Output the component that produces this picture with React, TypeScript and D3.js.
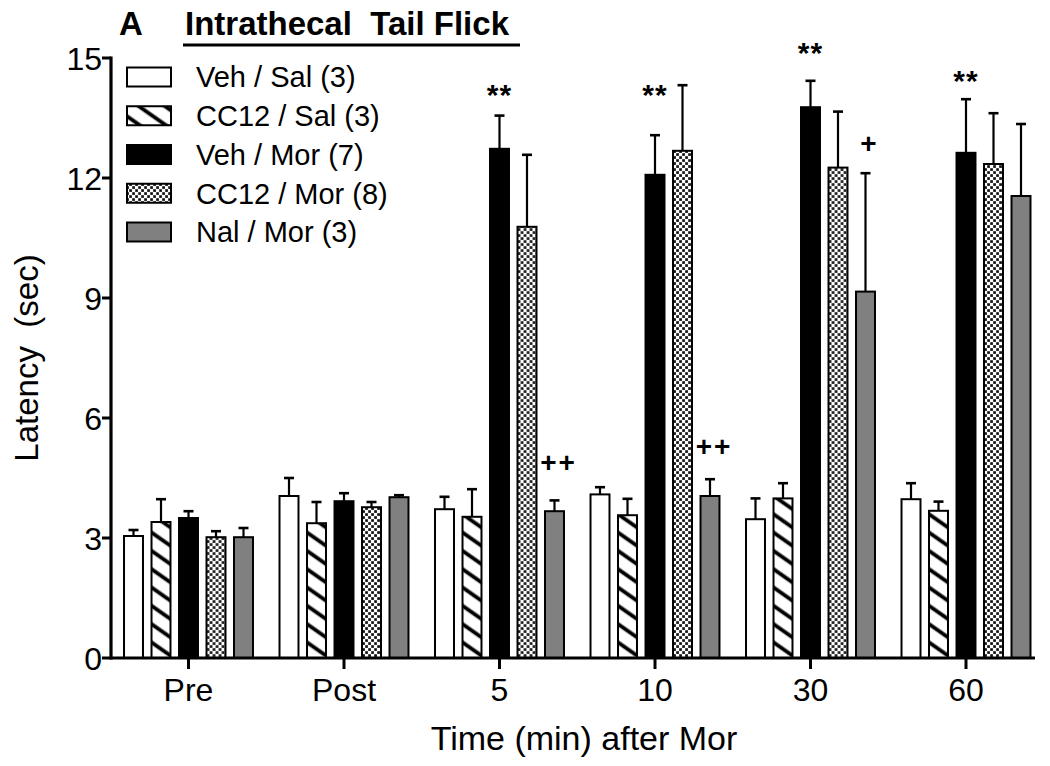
import * as d3 from "d3";

// time points and groups
const categories = ["Pre", "Post", "5", "10", "30", "60"];
const seriesNames = ["Veh / Sal (3)", "CC12 / Sal (3)", "Veh / Mor (7)", "CC12 / Mor (8)", "Nal / Mor (3)"];

// mean latency (sec) per group, one value per time point
const vehSal = [3.05, 4.05, 3.72, 4.09, 3.47, 3.97];
const cc12Sal = [3.4, 3.37, 3.53, 3.57, 3.99, 3.68];
const vehMor = [3.5, 3.92, 12.73, 12.08, 13.77, 12.63];
const cc12Mor = [3.02, 3.77, 10.78, 12.68, 12.26, 12.35];
const nalMor = [3.02, 4.02, 3.67, 4.05, 9.16, 11.55];

// SEM (upper error bar only)
const vehSalSem = [0.15, 0.45, 0.31, 0.18, 0.52, 0.4];
const cc12SalSem = [0.57, 0.53, 0.69, 0.41, 0.38, 0.23];
const vehMorSem = [0.17, 0.2, 0.83, 0.99, 0.66, 1.34];
const cc12MorSem = [0.15, 0.13, 1.8, 1.64, 1.4, 1.27];
const nalMorSem = [0.23, 0.05, 0.27, 0.42, 2.96, 1.8];

const yTicks = [0, 3, 6, 9, 12, 15];

// significance marks: time point, group index, text, height (sec)
const marks = [
  { cat: "5", s: 2, text: "**", at: 14.25 },
  { cat: "10", s: 2, text: "**", at: 14.25 },
  { cat: "30", s: 2, text: "**", at: 15.3 },
  { cat: "60", s: 2, text: "**", at: 14.6 },
  { cat: "5", s: 4, text: "++", at: 4.87 },
  { cat: "10", s: 4, text: "++", at: 5.27 },
  { cat: "30", s: 4, text: "+", at: 12.85 },
];

const means = [vehSal, cc12Sal, vehMor, cc12Mor, nalMor];
const sems = [vehSalSem, cc12SalSem, vehMorSem, cc12MorSem, nalMorSem];
const fills = ["#ffffff", "url(#hatch)", "#000000", "url(#checker)", "#808080"];

const FONT = "'Liberation Sans', Arial, Helvetica, sans-serif";

export default function App() {
  const W = 1050;
  const H = 766;
  const axisX = 111;
  const axisY = 658;
  const axisEnd = 1035;

  const y = d3.scaleLinear().domain([0, 15]).range([axisY, 58]);
  const x = d3.scalePoint<string>().domain(categories).range([188.5, 966]);
  // bars inside one time point
  const xs = d3
    .scaleBand<number>()
    .domain(d3.range(seriesNames.length))
    .range([-68.75, 68.75])
    .paddingInner(0.31)
    .paddingOuter(0.155);
  const bw = xs.bandwidth();
  const cap = 10;

  const legendY = d3.scalePoint<number>().domain(d3.range(seriesNames.length)).range([77, 232]);

  return (
    <svg width={W} height={H} style={{ position: "absolute", left: 0, top: 0, background: "#fff" }} fontFamily={FONT}>
      <defs>
        <pattern id="hatch" patternUnits="userSpaceOnUse" width="15" height="15" patternTransform="rotate(35)">
          <rect width="15" height="15" fill="#fff" />
          <rect y="5.5" width="15" height="3.8" fill="#000" />
        </pattern>
        <pattern id="checker" patternUnits="userSpaceOnUse" width="6" height="6">
          <rect width="6" height="6" fill="#fff" />
          <rect x="0.2" y="0.2" width="2.7" height="2.7" fill="#111" />
          <rect x="3.2" y="3.2" width="2.7" height="2.7" fill="#111" />
        </pattern>
      </defs>

      {/* bars and error bars */}
      {categories.map((c, ci) => (
        <g key={c} transform={`translate(${x(c)},0)`}>
          {means.map((vals, si) => {
            const bx = xs(si) as number;
            const cx = bx + bw / 2;
            const top = y(vals[ci]);
            const errTop = y(vals[ci] + sems[si][ci]);
            return (
              <g key={si}>
                <line x1={cx} x2={cx} y1={top} y2={errTop} stroke="#000" strokeWidth={2.2} />
                <line x1={cx - cap / 2} x2={cx + cap / 2} y1={errTop} y2={errTop} stroke="#000" strokeWidth={2.6} />
                <rect x={bx} y={top} width={bw} height={axisY - top} fill={fills[si]} stroke="#000" strokeWidth={2} />
              </g>
            );
          })}
        </g>
      ))}

      {/* significance marks */}
      {marks.map((m, i) => {
        const star = m.text[0] === "*";
        const cx = (x(m.cat) as number) + (xs(m.s) as number) + bw / 2 + (star ? 0 : 4);
        const cy = y(m.at);
        const fs = star ? 30 : 28;
        const base = star ? cy + 0.58 * fs : cy + 0.33 * fs;
        return (
          <text key={i} x={cx} y={base} fontSize={fs} fontWeight="bold" textAnchor="middle" letterSpacing={star ? 1 : 2}>
            {m.text}
          </text>
        );
      })}

      {/* y axis */}
      <line x1={axisX} x2={axisX} y1={y(15) - 1.5} y2={axisY + 1.5} stroke="#000" strokeWidth={3.2} />
      {yTicks.map((t) => (
        <g key={t}>
          <line x1={axisX - 9} x2={axisX} y1={y(t)} y2={y(t)} stroke="#000" strokeWidth={3} />
          <text x={axisX - 9} y={y(t)} dy="0.36em" fontSize={32} textAnchor="end">
            {t}
          </text>
        </g>
      ))}

      {/* x axis */}
      <line x1={axisX} x2={axisEnd} y1={axisY} y2={axisY} stroke="#000" strokeWidth={3.2} />
      {categories.map((c) => (
        <g key={c}>
          <line x1={x(c)} x2={x(c)} y1={axisY} y2={axisY + 11} stroke="#000" strokeWidth={3} />
          <text x={x(c)} y={701} fontSize={32} textAnchor="middle">
            {c}
          </text>
        </g>
      ))}

      {/* axis titles */}
      <text x={584} y={750} fontSize={34} textAnchor="middle">
        Time (min) after Mor
      </text>
      <text transform={`translate(38,358) rotate(-90)`} fontSize={33} textAnchor="middle" style={{ whiteSpace: "pre" }}>
        {"Latency  (sec)"}
      </text>

      {/* panel title */}
      <text x={119} y={35} fontSize={33} fontWeight="bold">
        A
      </text>
      <text x={185} y={35} fontSize={33} fontWeight="bold" style={{ whiteSpace: "pre" }}>
        {"Intrathecal  Tail Flick"}
      </text>
      <line x1={183} x2={520} y1={45} y2={45} stroke="#000" strokeWidth={3} />

      {/* legend */}
      {seriesNames.map((name, si) => {
        const ly = legendY(si) as number;
        return (
          <g key={name}>
            <rect x={127} y={ly - 9.5} width={44} height={19} fill={fills[si]} stroke="#000" strokeWidth={2} />
            <text x={196} y={ly} dy="0.36em" fontSize={29}>
              {name}
            </text>
          </g>
        );
      })}
    </svg>
  );
}
